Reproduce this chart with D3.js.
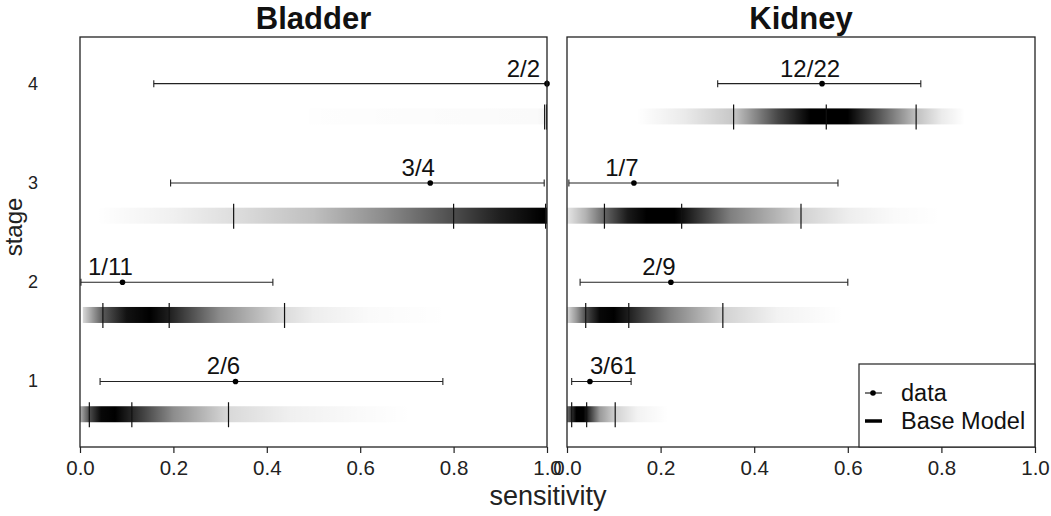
<!DOCTYPE html>
<html><head><meta charset="utf-8">
<script src="https://cdn.jsdelivr.net/npm/d3@7"></script>
<style>body{margin:0;background:#fff}svg{display:block}text{font-family:"Liberation Sans",Arial,sans-serif}</style>
</head><body><svg id="c" width="1051" height="516"></svg>
<script>
const stages = [1, 2, 3, 4];
const panelNames = ["Bladder", "Kidney"];
const stageTicks = ["1", "2", "3", "4"];
const xTicks = [0, 0.2, 0.4, 0.6, 0.8, 1.0];

const bladderLabels = ["2/6", "1/11", "3/4", "2/2"];
const bladderPoint = [0.333, 0.091, 0.75, 1.0];
const bladderLo = [0.043, 0.002, 0.194, 0.158];
const bladderHi = [0.777, 0.413, 0.994, 1.0];
const bladderQ = [[0.020, 0.111, 0.318], [0.049, 0.191, 0.438], [0.329, 0.800, 0.997], [0.995, 1.0, 1.0]];
const bladderGrad = [
  [[0, 0.3], [0.02, 0.7], [0.045, 0.97], [0.075, 1], [0.111, 0.85], [0.2, 0.45], [0.318, 0.15], [0.45, 0.06], [0.6, 0.02], [0.71, 0]],
  [[0.006, 0.15], [0.049, 0.65], [0.1, 0.93], [0.15, 1], [0.191, 0.88], [0.3, 0.45], [0.438, 0.14], [0.5, 0.07], [0.62, 0.02], [0.79, 0]],
  [[0.035, 0], [0.2, 0.06], [0.329, 0.13], [0.5, 0.25], [0.65, 0.45], [0.8, 0.7], [0.9, 0.88], [0.99, 1], [1, 1]],
  [[0.49, 0.005], [0.7, 0.012], [0.98, 0.02], [1, 0.05]]
];

const kidneyLabels = ["3/61", "2/9", "1/7", "12/22"];
const kidneyPoint = [0.049, 0.222, 0.143, 0.545];
const kidneyLo = [0.010, 0.028, 0.004, 0.322];
const kidneyHi = [0.137, 0.600, 0.579, 0.756];
const kidneyQ = [[0.010, 0.042, 0.103], [0.040, 0.132, 0.333], [0.080, 0.245, 0.500], [0.356, 0.554, 0.746]];
const kidneyGrad = [
  [[0, 0.55], [0.01, 0.8], [0.02, 1], [0.035, 1], [0.042, 0.9], [0.07, 0.4], [0.103, 0.18], [0.15, 0.05], [0.216, 0]],
  [[0, 0.15], [0.02, 0.4], [0.04, 0.7], [0.07, 0.97], [0.1, 1], [0.132, 0.88], [0.22, 0.5], [0.333, 0.18], [0.45, 0.05], [0.59, 0]],
  [[0, 0.1], [0.04, 0.3], [0.08, 0.6], [0.13, 0.9], [0.17, 1], [0.23, 1], [0.245, 0.95], [0.35, 0.5], [0.5, 0.18], [0.6, 0.07], [0.7, 0.02], [0.8, 0]],
  [[0.149, 0], [0.25, 0.08], [0.356, 0.22], [0.45, 0.72], [0.52, 1], [0.6, 1], [0.65, 0.75], [0.746, 0.25], [0.8, 0.08], [0.85, 0]]
];

const legendItems = ["data", "Base Model"];

const panels = [
  {name: panelNames[0], labels: bladderLabels, point: bladderPoint, lo: bladderLo, hi: bladderHi, q: bladderQ, grad: bladderGrad, x0: 80, x1: 547},
  {name: panelNames[1], labels: kidneyLabels, point: kidneyPoint, lo: kidneyLo, hi: kidneyHi, q: kidneyQ, grad: kidneyGrad, x0: 567, x1: 1035}
];

const svg = d3.select("#c");
const defs = svg.append("defs");
const yTop = 37, yBottom = 447;
const y = d3.scaleLinear().domain([0.34, 4.47]).range([yBottom, yTop]);
const barOff = 0.33;

panels.forEach((p, pi) => {
  const x = d3.scaleLinear().domain([0, 1]).range([p.x0, p.x1]);
  const g = svg.append("g");
  const clipId = "clip" + pi;
  defs.append("clipPath").attr("id", clipId).append("rect")
    .attr("x", p.x0).attr("y", yTop).attr("width", p.x1 - p.x0).attr("height", yBottom - yTop);
  const inner = g.append("g").attr("clip-path", `url(#${clipId})`);

  stages.forEach((s, i) => {
    const stops = p.grad[i];
    const gid = `grad${pi}_${i}`;
    const xa = x(stops[0][0]), xb = x(stops[stops.length - 1][0]);
    const lgr = defs.append("linearGradient").attr("id", gid)
      .attr("gradientUnits", "userSpaceOnUse").attr("x1", xa).attr("x2", xb).attr("y1", 0).attr("y2", 0);
    stops.forEach(st => {
      lgr.append("stop").attr("offset", (x(st[0]) - xa) / (xb - xa || 1))
        .attr("stop-color", "#000").attr("stop-opacity", st[1]);
    });
    const yc = y(s - barOff);
    inner.append("rect").attr("x", xa).attr("y", yc - 8).attr("width", xb - xa).attr("height", 16)
      .attr("fill", `url(#${gid})`);
    p.q[i].forEach(v => {
      inner.append("line").attr("x1", x(v)).attr("x2", x(v)).attr("y1", yc - 12).attr("y2", yc + 13)
        .attr("stroke", "#111").attr("stroke-width", 1.2);
    });
  });

  stages.forEach((s, i) => {
    const yy = y(s);
    g.append("line").attr("x1", x(p.lo[i])).attr("x2", x(p.hi[i])).attr("y1", yy).attr("y2", yy)
      .attr("stroke", "#222").attr("stroke-width", 1.1);
    [p.lo[i], p.hi[i]].forEach(v => {
      g.append("line").attr("x1", x(v)).attr("x2", x(v)).attr("y1", yy - 3.5).attr("y2", yy + 3.5)
        .attr("stroke", "#222").attr("stroke-width", 1.1);
    });
    g.append("circle").attr("cx", x(p.point[i])).attr("cy", yy).attr("r", 2.8).attr("fill", "#000");
    const t = g.append("text").attr("y", yy - 7).attr("text-anchor", "middle")
      .attr("font-size", 24).attr("fill", "#111").text(p.labels[i]);
    const w = t.node().getComputedTextLength();
    const px = x(p.point[i]);
    let cx = px - 12;
    if (cx + w / 2 > p.x1 - 7) cx = p.x1 - 7 - w / 2;
    if (cx - w / 2 < p.x0 + 4) cx = px + w / 2;
    t.attr("x", cx);
  });

  g.append("rect").attr("x", p.x0).attr("y", yTop).attr("width", p.x1 - p.x0).attr("height", yBottom - yTop)
    .attr("fill", "none").attr("stroke", "#222").attr("stroke-width", 1.3);

  const ax = g.append("g").attr("transform", `translate(0,${yBottom})`)
    .call(d3.axisBottom(x).tickValues(xTicks).tickFormat(d3.format(".1f")).tickSizeOuter(0).tickSize(6).tickPadding(7));
  ax.select(".domain").remove();
  ax.selectAll("line").attr("stroke", "#222").attr("stroke-width", 1.2);
  ax.selectAll("text").attr("font-size", 20.5).attr("fill", "#222")
    .style("font-family", '"Liberation Sans",Arial,sans-serif');

  g.append("text").attr("x", (p.x0 + p.x1) / 2).attr("y", 29).attr("text-anchor", "middle")
    .attr("font-size", 31).attr("font-weight", "bold").attr("fill", "#111").text(p.name);
});

stages.forEach((s, i) => {
  svg.append("text").attr("x", 38).attr("y", y(s) + 6).attr("text-anchor", "end")
    .attr("font-size", 18).attr("fill", "#222").text(stageTicks[i]);
});

svg.append("text").attr("transform", `translate(22,227) rotate(-90)`)
  .attr("text-anchor", "middle").attr("font-size", 24).attr("fill", "#222").text("stage");
svg.append("text").attr("x", 548).attr("y", 505).attr("text-anchor", "middle")
  .attr("font-size", 27).attr("fill", "#222").text("sensitivity");

const leg = svg.append("g");
leg.append("rect").attr("x", 859).attr("y", 364).attr("width", 1035 - 859).attr("height", yBottom - 364)
  .attr("fill", "#fff").attr("stroke", "#222").attr("stroke-width", 1.2);
leg.append("line").attr("x1", 865).attr("x2", 882).attr("y1", 393).attr("y2", 393).attr("stroke", "#222").attr("stroke-width", 1.2);
leg.append("circle").attr("cx", 873).attr("cy", 393).attr("r", 2.8).attr("fill", "#000");
leg.append("line").attr("x1", 865).attr("x2", 882).attr("y1", 421).attr("y2", 421).attr("stroke", "#000").attr("stroke-width", 3.5);
legendItems.forEach((t, i) => {
  leg.append("text").attr("x", 901).attr("y", 401 + i * 28).attr("font-size", 23.5).attr("fill", "#111").text(t);
});
</script></body></html>
